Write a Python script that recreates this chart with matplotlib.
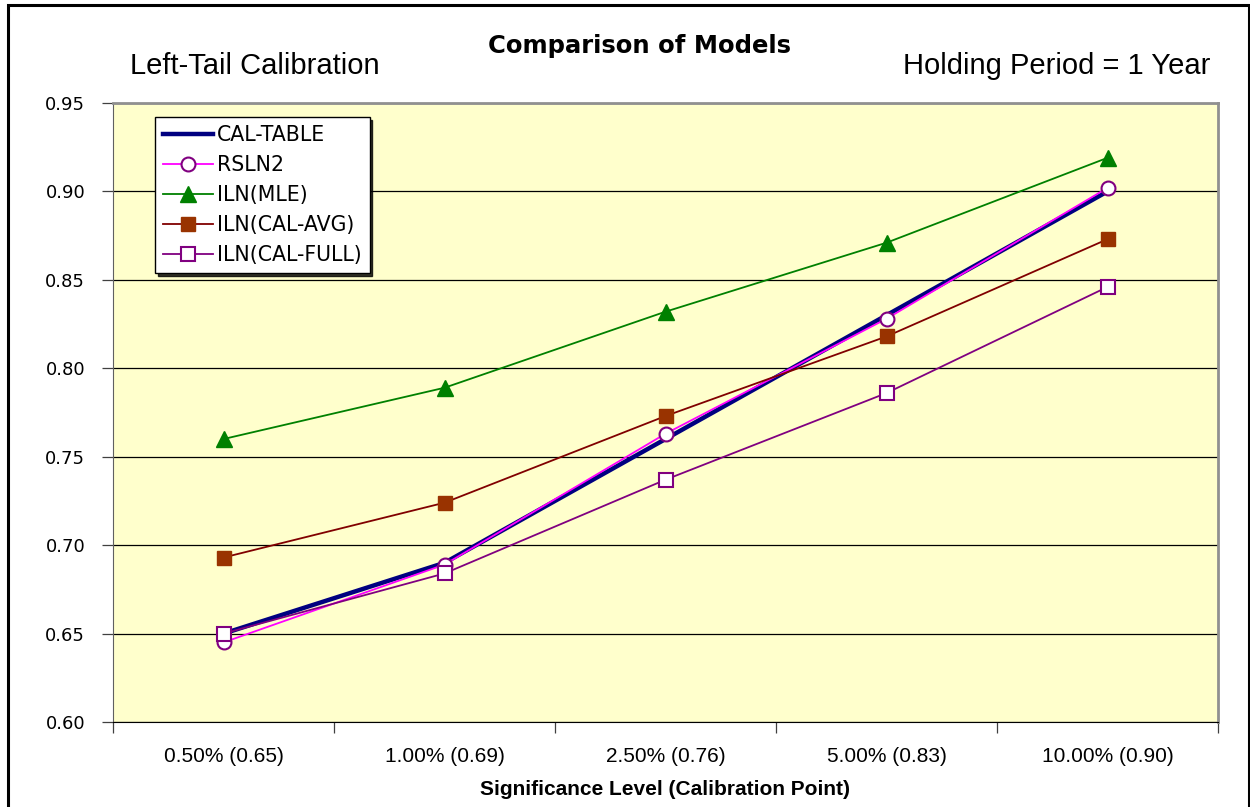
import matplotlib
matplotlib.use('Agg')
import matplotlib.pyplot as plt
from matplotlib.patches import Rectangle

# calibration points and model quantiles
categories = ['0.50% (0.65)', '1.00% (0.69)', '2.50% (0.76)', '5.00% (0.83)', '10.00% (0.90)']
cal_table = [0.650, 0.690, 0.760, 0.830, 0.900]
rsln2 = [0.645, 0.689, 0.763, 0.828, 0.902]
iln_mle = [0.760, 0.789, 0.832, 0.871, 0.919]
iln_cal_avg = [0.693, 0.724, 0.773, 0.818, 0.873]
iln_cal_full = [0.650, 0.684, 0.737, 0.786, 0.846]
yticks = [0.60, 0.65, 0.70, 0.75, 0.80, 0.85, 0.90, 0.95]

narrow = ['Liberation Sans', 'DejaVu Sans']
wide = ['DejaVu Sans']
plt.rcParams['font.family'] = ['Liberation Sans', 'DejaVu Sans']

fig = plt.figure(figsize=(12.5, 8.07), dpi=100)
ax = fig.add_axes([113/1250, 1 - 722/807, 1105/1250, 619/807])
ax.set_facecolor('#FFFFCC')

x = range(len(categories))
ax.plot(x, cal_table, color='#000080', lw=3.2, label='CAL-TABLE')
ax.plot(x, rsln2, color='#FF00FF', lw=1.3, marker='o', ms=10,
        mfc='white', mec='#800080', mew=1.5, label='RSLN2')
ax.plot(x, iln_mle, color='#008000', lw=1.3, marker='^', ms=11,
        mfc='#008000', mec='#008000', label='ILN(MLE)')
ax.plot(x, iln_cal_avg, color='#800000', lw=1.3, marker='s', ms=10,
        mfc='#993300', mec='#993300', label='ILN(CAL-AVG)')
ax.plot(x, iln_cal_full, color='#800080', lw=1.3, marker='s', ms=10,
        mfc='white', mec='#800080', mew=1.5, label='ILN(CAL-FULL)')

ax.set_xlim(-0.5, len(categories) - 0.5)
ax.set_ylim(0.60, 0.95)
ax.set_yticks(yticks)
ax.set_yticklabels(['%.2f' % v for v in yticks], fontsize=13, family=wide)
ax.yaxis.grid(True, color='black', lw=0.9)
ax.set_axisbelow(True)

# category labels between boundary ticks
ax.set_xticks([i + 0.5 for i in range(-1, len(categories))])
ax.set_xticklabels([])
ax.set_xticks(list(x), minor=True)
ax.set_xticklabels(categories, minor=True, fontsize=15, family=narrow)
ax.tick_params(axis='x', which='minor', length=0, pad=18)
ax.tick_params(axis='x', which='major', length=8, width=0.9, color='#404040')
ax.tick_params(axis='y', length=8, width=0.9, color='#404040', pad=12)

for side in ['top', 'right']:
    ax.spines[side].set_color('#909090')
    ax.spines[side].set_linewidth(2)
ax.spines['left'].set_color('#606060')
ax.spines['bottom'].set_color('black')

ax.set_xlabel('Significance Level (Calibration Point)', fontsize=15,
              fontweight='bold', family=narrow, labelpad=10)

leg = ax.legend(loc='upper left', bbox_to_anchor=(0.038, 0.977),
                prop={'family': wide, 'size': 14.8},
                frameon=True, fancybox=False, shadow={'color': 'black', 'alpha': 0.8},
                edgecolor='black', framealpha=1, borderpad=0.4, labelspacing=0.48,
                handlelength=2.4, handletextpad=0.2, borderaxespad=0)
leg.get_frame().set_linewidth(1.0)

fig.text(0.512, 1 - 46/807, 'Comparison of Models', ha='center', va='center',
         fontsize=17.5, fontweight='bold', family=wide)
fig.text(130/1250, 1 - 66/807, 'Left-Tail Calibration', ha='left', va='center',
         fontsize=21, family=narrow)
fig.text(1210/1250, 1 - 66/807, 'Holding Period = 1 Year', ha='right', va='center',
         fontsize=21, family=narrow)

# outer chart border
fig.patches.append(Rectangle((8/1250, -0.05), 1240.5/1250, 1.05 - 5/807,
                             transform=fig.transFigure, fill=False,
                             edgecolor='black', lw=2.2))

fig.savefig('out.png', dpi=100)
